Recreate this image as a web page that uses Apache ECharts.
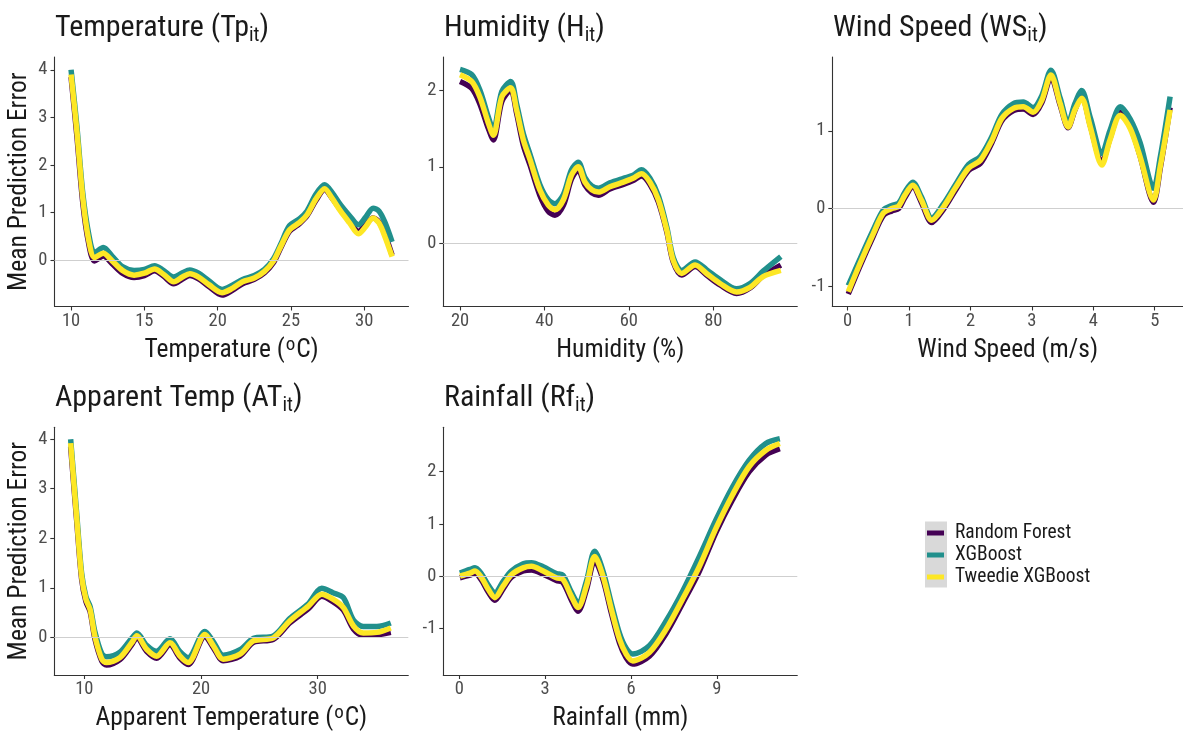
<!DOCTYPE html>
<html><head><meta charset="utf-8">
<script src="https://cdn.jsdelivr.net/npm/echarts@6/dist/echarts.min.js"></script>
<style>html,body{margin:0;padding:0;background:#fff}#c{width:1183px;height:733px}</style>
</head><body><div id="c"></div><script>
// ---------- data ----------
const seriesNames = ['Random Forest', 'XGBoost', 'Tweedie XGBoost'];

const tempX   = [10, 10.4, 10.8, 11.2, 11.6, 12.2, 12.8, 13.5, 14.3, 15.0, 15.7, 16.3, 17.0, 17.6, 18.1, 18.7, 19.4, 20.3, 21.0, 21.7, 22.5, 23.2, 23.8, 24.3, 24.9, 25.6, 26.1, 26.7, 27.3, 27.8, 28.4, 29.0, 29.6, 30.1, 30.6, 31.0, 31.4, 31.9];
const tempRF  = [3.85, 2.6, 1.2, 0.35, -0.02, 0.08, -0.08, -0.28, -0.37, -0.33, -0.23, -0.34, -0.5, -0.4, -0.33, -0.4, -0.56, -0.74, -0.64, -0.5, -0.41, -0.27, -0.06, 0.25, 0.6, 0.77, 0.93, 1.25, 1.48, 1.3, 1.05, 0.82, 0.6, 0.75, 0.88, 0.8, 0.55, 0.1];
const tempXGB = [4.0, 2.8, 1.4, 0.55, 0.15, 0.26, 0.08, -0.14, -0.22, -0.2, -0.12, -0.22, -0.36, -0.27, -0.21, -0.28, -0.44, -0.62, -0.53, -0.41, -0.33, -0.2, 0.02, 0.33, 0.72, 0.87, 1.03, 1.38, 1.58, 1.42, 1.15, 0.93, 0.74, 0.9, 1.09, 1.03, 0.8, 0.38];
const tempTW  = [3.9, 2.7, 1.3, 0.42, 0.05, 0.14, -0.02, -0.22, -0.32, -0.28, -0.19, -0.3, -0.46, -0.36, -0.29, -0.36, -0.52, -0.69, -0.6, -0.46, -0.38, -0.24, -0.03, 0.28, 0.63, 0.79, 0.95, 1.28, 1.5, 1.3, 1.02, 0.78, 0.55, 0.7, 0.88, 0.78, 0.5, 0.07];
const tempXTicks = [10, 15, 20, 25, 30];
const tempYTicks = [0, 1, 2, 3, 4];

const humX   = [20, 22.8, 24.7, 26.7, 27.9, 29.9, 32, 33.4, 35, 36.6, 38.9, 40.9, 42.5, 44.5, 46.4, 48, 49.6, 51.2, 52.8, 55.5, 58.7, 61, 63, 65, 67, 69, 70.5, 72.5, 75.7, 78.4, 81.6, 85.5, 88.7, 91.8, 96];
const humRF  = [2.11, 2.02, 1.82, 1.5, 1.35, 1.85, 2.0, 1.7, 1.28, 1.02, 0.63, 0.42, 0.37, 0.5, 0.84, 0.96, 0.76, 0.66, 0.63, 0.71, 0.77, 0.82, 0.88, 0.77, 0.54, 0.15, -0.24, -0.41, -0.3, -0.41, -0.54, -0.65, -0.58, -0.42, -0.28];
const humXGB = [2.27, 2.2, 2.0, 1.65, 1.48, 1.98, 2.11, 1.82, 1.43, 1.16, 0.77, 0.57, 0.52, 0.64, 0.96, 1.06, 0.86, 0.75, 0.72, 0.79, 0.85, 0.89, 0.96, 0.85, 0.62, 0.21, -0.18, -0.35, -0.24, -0.34, -0.47, -0.59, -0.52, -0.36, -0.17];
const humTW  = [2.2, 2.11, 1.91, 1.57, 1.41, 1.91, 2.03, 1.74, 1.35, 1.09, 0.7, 0.5, 0.44, 0.57, 0.89, 1.0, 0.8, 0.7, 0.67, 0.74, 0.8, 0.85, 0.91, 0.8, 0.57, 0.17, -0.22, -0.39, -0.28, -0.39, -0.52, -0.63, -0.57, -0.43, -0.35];
const humXTicks = [20, 40, 60, 80];
const humYTicks = [0, 1, 2];

const windX   = [0.01, 0.2, 0.42, 0.58, 0.72, 0.83, 0.93, 1.06, 1.2, 1.37, 1.56, 1.75, 1.97, 2.16, 2.35, 2.51, 2.7, 2.86, 3.02, 3.16, 3.31, 3.46, 3.59, 3.7, 3.81, 3.95, 4.14, 4.27, 4.44, 4.6, 4.76, 4.98, 5.09, 5.25];
const windRF  = [-1.1, -0.74, -0.35, -0.09, -0.03, 0.0, 0.14, 0.28, 0.08, -0.18, -0.01, 0.23, 0.49, 0.58, 0.85, 1.13, 1.26, 1.28, 1.21, 1.36, 1.69, 1.33, 1.04, 1.27, 1.45, 1.07, 0.6, 0.9, 1.24, 1.06, 0.68, 0.08, 0.52, 1.3];
const windXGB = [-0.99, -0.65, -0.27, -0.02, 0.04, 0.07, 0.21, 0.34, 0.15, -0.12, 0.06, 0.3, 0.57, 0.67, 0.93, 1.21, 1.35, 1.37, 1.3, 1.45, 1.78, 1.42, 1.1, 1.35, 1.52, 1.17, 0.71, 1.0, 1.31, 1.15, 0.85, 0.26, 0.66, 1.44];
const windTW  = [-1.07, -0.71, -0.32, -0.06, 0.0, 0.03, 0.17, 0.3, 0.11, -0.15, 0.02, 0.26, 0.52, 0.62, 0.88, 1.16, 1.29, 1.31, 1.24, 1.39, 1.72, 1.35, 1.05, 1.27, 1.42, 1.05, 0.56, 0.88, 1.2, 1.03, 0.67, 0.11, 0.54, 1.27];
const windXTicks = [0, 1, 2, 3, 4, 5];
const windYTicks = [-1, 0, 1];

const atX   = [8.83, 9.34, 9.77, 10.14, 10.5, 10.9, 11.5, 11.9, 13.05, 14.06, 14.5, 15.34, 16.2, 17.34, 18.2, 18.9, 20.34, 21.06, 21.9, 23.34, 24.5, 26.2, 27.6, 29.2, 30.34, 31.3, 32.2, 33.06, 33.9, 35.06, 36.26];
const atRF  = [3.85, 2.38, 1.18, 0.72, 0.52, -0.02, -0.48, -0.56, -0.45, -0.15, -0.01, -0.28, -0.42, -0.15, -0.42, -0.55, 0.02, -0.21, -0.47, -0.38, -0.1, -0.04, 0.29, 0.58, 0.83, 0.72, 0.55, 0.17, 0.04, 0.05, 0.1];
const atXGB = [4.0, 2.52, 1.3, 0.82, 0.62, 0.12, -0.33, -0.39, -0.3, -0.02, 0.09, -0.16, -0.28, -0.03, -0.29, -0.41, 0.12, -0.09, -0.36, -0.25, -0.02, 0.03, 0.38, 0.68, 0.99, 0.9, 0.8, 0.35, 0.22, 0.22, 0.29];
const atTW  = [3.92, 2.44, 1.23, 0.77, 0.56, 0.03, -0.44, -0.51, -0.41, -0.11, 0.03, -0.24, -0.38, -0.11, -0.38, -0.51, 0.06, -0.17, -0.44, -0.34, -0.07, -0.01, 0.33, 0.63, 0.87, 0.77, 0.6, 0.23, 0.09, 0.1, 0.19];
const atXTicks = [10, 20, 30];
const atYTicks = [0, 1, 2, 3, 4];

const rainX   = [0.02, 0.37, 0.55, 0.78, 1.01, 1.24, 1.53, 1.82, 2.23, 2.52, 2.93, 3.39, 3.62, 3.91, 4.15, 4.44, 4.73, 5.02, 5.31, 5.6, 5.83, 6.06, 6.64, 7.22, 7.8, 8.39, 8.97, 9.55, 10.13, 10.71, 11.2];
const rainRF  = [-0.03, 0.02, 0.05, -0.08, -0.3, -0.46, -0.24, -0.02, 0.1, 0.12, 0.04, -0.08, -0.12, -0.45, -0.67, -0.26, 0.3, -0.06, -0.7, -1.28, -1.56, -1.68, -1.53, -1.1, -0.52, 0.1, 0.84, 1.47, 2.0, 2.32, 2.44];
const rainXGB = [0.06, 0.13, 0.16, 0.04, -0.17, -0.32, -0.1, 0.1, 0.24, 0.26, 0.18, 0.05, 0.02, -0.3, -0.51, -0.1, 0.48, 0.1, -0.52, -1.1, -1.38, -1.49, -1.33, -0.86, -0.29, 0.38, 1.08, 1.71, 2.22, 2.54, 2.63];
const rainTW  = [0.0, 0.06, 0.1, -0.03, -0.25, -0.41, -0.19, 0.03, 0.16, 0.19, 0.1, -0.03, -0.06, -0.38, -0.6, -0.19, 0.38, 0.0, -0.63, -1.21, -1.49, -1.62, -1.46, -1.02, -0.44, 0.19, 0.92, 1.56, 2.1, 2.41, 2.54];
const rainXTicks = [0, 3, 6, 9];
const rainYTicks = [-1, 0, 1, 2];

// ---------- style / layout ----------
const FONT = "'Roboto Condensed','Liberation Sans Narrow','DejaVu Sans Condensed',Roboto,sans-serif";
const COLORS = ['#440154', '#21908C', '#FDE725'];

const panels = [
  { title: '{m|Temperature (Tp}{s|it}{m|)}', xName: '{m|Temperature (}{o|o}{m|C)}', x: tempX, ys: [tempRF, tempXGB, tempTW],
    xTicks: tempXTicks, yTicks: tempYTicks, xr: [8.87, 33.02], yr: [-0.98, 4.27],
    grid: { left: 54.5, top: 57, width: 354, height: 249.5 }, tpos: { left: 55, top: 10 }, yName: true },
  { title: '{m|Humidity (H}{s|it}{m|)}', xName: '{m|Humidity (%)}', x: humX, ys: [humRF, humXGB, humTW],
    xTicks: humXTicks, yTicks: humYTicks, xr: [16.04, 99.9], yr: [-0.82, 2.43],
    grid: { left: 443.3, top: 57, width: 354, height: 249.5 }, tpos: { left: 444, top: 10 }, yName: false },
  { title: '{m|Wind Speed (WS}{s|it}{m|)}', xName: '{m|Wind Speed (m/s)}', x: windX, ys: [windRF, windXGB, windTW],
    xTicks: windXTicks, yTicks: windYTicks, xr: [-0.25, 5.46], yr: [-1.26, 1.95],
    grid: { left: 832.3, top: 57, width: 351, height: 249.5 }, tpos: { left: 833, top: 10 }, yName: false },
  { title: '{m|Apparent Temp (AT}{s|it}{m|)}', xName: '{m|Apparent Temperature (}{o|o}{m|C)}', x: atX, ys: [atRF, atXGB, atTW],
    xTicks: atXTicks, yTicks: atYTicks, xr: [7.43, 37.76], yr: [-0.76, 4.24],
    grid: { left: 54.3, top: 427.3, width: 354, height: 248.7 }, tpos: { left: 55, top: 380 }, yName: true },
  { title: '{m|Rainfall (Rf}{s|it}{m|)}', xName: '{m|Rainfall (mm)}', x: rainX, ys: [rainRF, rainXGB, rainTW],
    xTicks: rainXTicks, yTicks: rainYTicks, xr: [-0.56, 11.81], yr: [-1.89, 2.85],
    grid: { left: 443.3, top: 427.3, width: 354, height: 248.7 }, tpos: { left: 444, top: 380 }, yName: false }
];

const titleRich = {
  m: { fontFamily: FONT, fontSize: 30, fontWeight: 'normal', color: '#1a1a1a', lineHeight: 36 },
  s: { fontFamily: FONT, fontSize: 20, fontWeight: 'normal', color: '#1a1a1a', lineHeight: 24, verticalAlign: 'bottom' }
};
const nameRich = {
  m: { fontFamily: FONT, fontSize: 25.5, color: '#1a1a1a', lineHeight: 30 },
  o: { fontFamily: FONT, fontSize: 19, color: '#1a1a1a', lineHeight: 19, verticalAlign: 'top', padding: [0, 1, 0, 1] }
};
const axisLineStyle = { color: '#333333', width: 1.1 };

const option = {
  animation: false,
  backgroundColor: '#ffffff',
  title: panels.map(p => ({ text: p.title, left: p.tpos.left, top: p.tpos.top, padding: 0,
    textStyle: { fontWeight: 'normal', rich: titleRich } })),
  grid: panels.map(p => Object.assign({ containLabel: false }, p.grid)),
  xAxis: panels.map((p, i) => ({
    type: 'value', gridIndex: i, min: p.xr[0], max: p.xr[1],
    name: p.xName, nameLocation: 'middle', nameGap: 29, nameTextStyle: { rich: nameRich },
    axisLine: { show: true, onZero: false, lineStyle: axisLineStyle },
    axisTick: { show: true, length: 4, lineStyle: axisLineStyle, customValues: p.xTicks },
    axisLabel: { customValues: p.xTicks, color: '#4D4D4D', fontFamily: FONT, fontSize: 18.5, margin: 5 },
    splitLine: { show: false }
  })),
  yAxis: panels.map((p, i) => ({
    type: 'value', gridIndex: i, min: p.yr[0], max: p.yr[1],
    name: p.yName ? 'Mean Prediction Error' : '', nameLocation: 'middle', nameGap: 13,
    nameTextStyle: { fontFamily: FONT, fontSize: 25.5, color: '#1a1a1a', lineHeight: 30 },
    axisLine: { show: true, onZero: false, lineStyle: axisLineStyle },
    axisTick: { show: true, length: 4, lineStyle: axisLineStyle, customValues: p.yTicks },
    axisLabel: { customValues: p.yTicks, color: '#4D4D4D', fontFamily: FONT, fontSize: 18.5, margin: 7 },
    splitLine: { show: false }
  })),
  legend: {
    orient: 'vertical', left: 927, top: 522, padding: 0, itemGap: 0,
    itemWidth: 17, itemHeight: 5, icon: 'rect',
    data: seriesNames,
    textStyle: { fontFamily: FONT, fontSize: 19.5, color: '#1a1a1a', lineHeight: 22, padding: [0, 0, 0, 6] }
  },
  graphic: [{ type: 'rect', left: 925, top: 521.5, shape: { width: 22, height: 66 }, style: { fill: '#D9D9D9' }, z: -10 }],
  series: []
};

panels.forEach((p, i) => {
  option.series.push({
    type: 'line', xAxisIndex: i, yAxisIndex: i, data: [], z: 1, silent: true,
    markLine: { silent: true, symbol: 'none', label: { show: false },
      lineStyle: { color: '#CFCFCF', width: 1.2, type: 'solid' }, data: [{ yAxis: 0 }] }
  });
  p.ys.forEach((ys, k) => {
    option.series.push({
      name: seriesNames[k], type: 'line', xAxisIndex: i, yAxisIndex: i, z: 2 + k,
      color: COLORS[k], showSymbol: false, symbol: 'none', smooth: 0.3,
      lineStyle: { width: 5.5, color: COLORS[k], join: 'round' },
      data: p.x.map((xv, j) => [xv, ys[j]])
    });
  });
});

const chart = echarts.init(document.getElementById('c'), null, { renderer: 'canvas' });
chart.setOption(option);
</script></body></html>
